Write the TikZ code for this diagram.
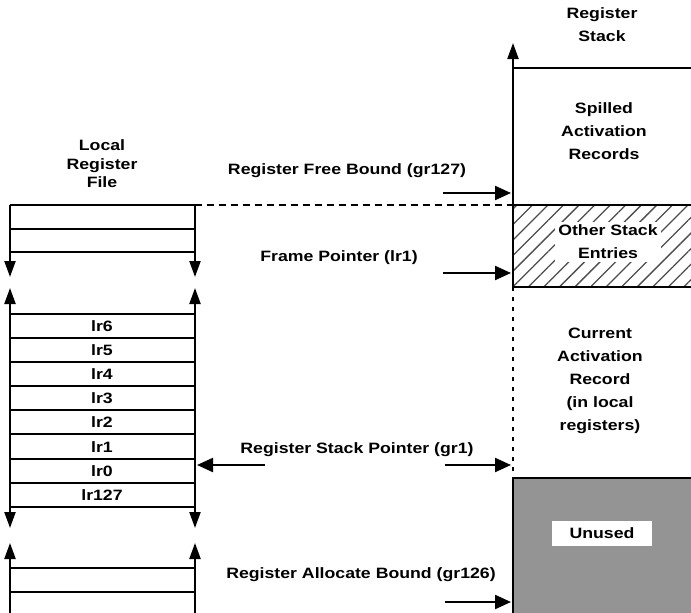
\documentclass[tikz,border=0pt]{standalone}
\usepackage{fontspec}
\setmainfont[FakeStretch=1.18]{Liberation Sans Bold}
\usetikzlibrary{arrows.meta,patterns.meta}
\begin{document}
\begin{tikzpicture}[x=1pt,y=-1pt,line width=2.2pt,
  lbl/.style={font=\fontsize{15}{23}\selectfont,align=center,inner sep=1pt},
  lbls/.style={font=\fontsize{15}{18.5}\selectfont,align=center,inner sep=1pt},
  arr/.style={-{Triangle[length=16pt,width=14pt]}},
  varr/.style={-{Triangle[length=16pt,width=11pt]}},
  darr/.style={{Triangle[length=16pt,width=11pt]}-{Triangle[length=16pt,width=11pt]}},
  bounddash/.style={dash pattern=on 7pt off 5pt},
  stackdot/.style={dash pattern=on 4pt off 6pt},
  hatchfill/.style={pattern={Lines[angle=45,distance=11pt,line width=1.3pt]},pattern color=black!70},
  unusedfill/.style={fill=black!42},
  whitebox/.style={lbl,fill=white}]
\useasboundingbox (0,0) rectangle (691,613);

% ---------- Local register file ----------
\node[lbls] (lrfTitle) at (102,164) {Local\\Register\\File};

% top block
\coordinate (tL0) at (10,205);  \coordinate (tR0) at (195,205);
\coordinate (tL1) at (10,229);  \coordinate (tR1) at (195,229);
\coordinate (tL2) at (10,252);  \coordinate (tR2) at (195,252);
\coordinate (tLe) at (10,277);  \coordinate (tRe) at (195,277);
\draw (tL0) -- (tR0);
\draw (tL1) -- (tR1);
\draw (tL2) -- (tR2);
\draw[varr] (tL0) -- (tLe);
\draw[varr] (tR0) -- (tRe);

% middle block
\coordinate (mLt) at (10,288);  \coordinate (mRt) at (195,288);
\coordinate (mLb) at (10,528);  \coordinate (mRb) at (195,528);
\draw[darr] (mLt) -- (mLb);
\draw[darr] (mRt) -- (mRb);
\foreach \yy in {314,338,362,386,410,434,459,483,507}{
  \draw (10,\yy) -- (195,\yy);
}
\node[lbl] (lr6) at (102,326) {lr6};
\node[lbl] (lr5) at (102,350) {lr5};
\node[lbl] (lr4) at (102,374) {lr4};
\node[lbl] (lr3) at (102,398) {lr3};
\node[lbl] (lr2) at (102,422) {lr2};
\node[lbl] (lr1) at (102,447) {lr1};
\node[lbl] (lr0) at (102,471) {lr0};
\node[lbl] (lr127) at (102,495) {lr127};

% bottom block
\coordinate (bLt) at (10,543);  \coordinate (bRt) at (195,543);
\coordinate (bLb) at (10,613);  \coordinate (bRb) at (195,613);
\draw[varr] (bLb) -- (bLt);
\draw[varr] (bRb) -- (bRt);
\draw (10,568) -- (195,568);
\draw (10,592) -- (195,592);

% ---------- Register stack ----------
\node[lbl] (rsTitle) at (602,25) {Register\\Stack};

\fill[hatchfill] (513,205) rectangle (691,287);
\fill[unusedfill] (513,478) rectangle (691,613);

\coordinate (sTop) at (513,43);
\coordinate (sA) at (513,68);
\coordinate (sB) at (513,205);
\coordinate (sC) at (513,287);
\coordinate (sD) at (513,478);
\coordinate (sE) at (513,613);
\draw (sA) -- (691,68);
\draw[bounddash] (tR0) -- (sB);
\draw (sB) -- (691,205);
\draw (sC) -- (691,287);
\draw (sD) -- (691,478);
\draw[varr] (sC) -- (sTop);
\draw[stackdot] (sC) -- (sD);
\draw (sD) -- (sE);

\node[lbl] (spilled) at (604,131) {Spilled\\Activation\\Records};
\node[whitebox,inner xsep=3pt,inner ysep=3pt] (other) at (608,242) {Other Stack\\Entries};
\node[lbl] (current) at (600,381) {Current\\Activation\\Record\\(in local\\registers)};
\node[whitebox,minimum width=100pt,minimum height=25pt] (unused) at (602,533) {Unused};

% ---------- pointers ----------
\node[lbl] (freeLbl) at (347,171) {Register Free Bound (gr127)};
\coordinate (fa0) at (443,193); \coordinate (fa1) at (511,193);
\draw[arr] (fa0) -- (fa1);

\node[lbl] (frameLbl) at (339,258) {Frame Pointer (lr1)};
\coordinate (fp0) at (443,273); \coordinate (fp1) at (511,273);
\draw[arr] (fp0) -- (fp1);

\node[lbl] (rspLbl) at (357,450) {Register Stack Pointer (gr1)};
\coordinate (sp0) at (265,465); \coordinate (sp1) at (197,465);
\coordinate (sp2) at (445,465); \coordinate (sp3) at (511,465);
\draw[arr] (sp0) -- (sp1);
\draw[arr] (sp2) -- (sp3);

\node[lbl] (allocLbl) at (361,575) {Register Allocate Bound (gr126)};
\coordinate (ab0) at (445,602); \coordinate (ab1) at (511,602);
\draw[arr] (ab0) -- (ab1);
\end{tikzpicture}
\end{document}
